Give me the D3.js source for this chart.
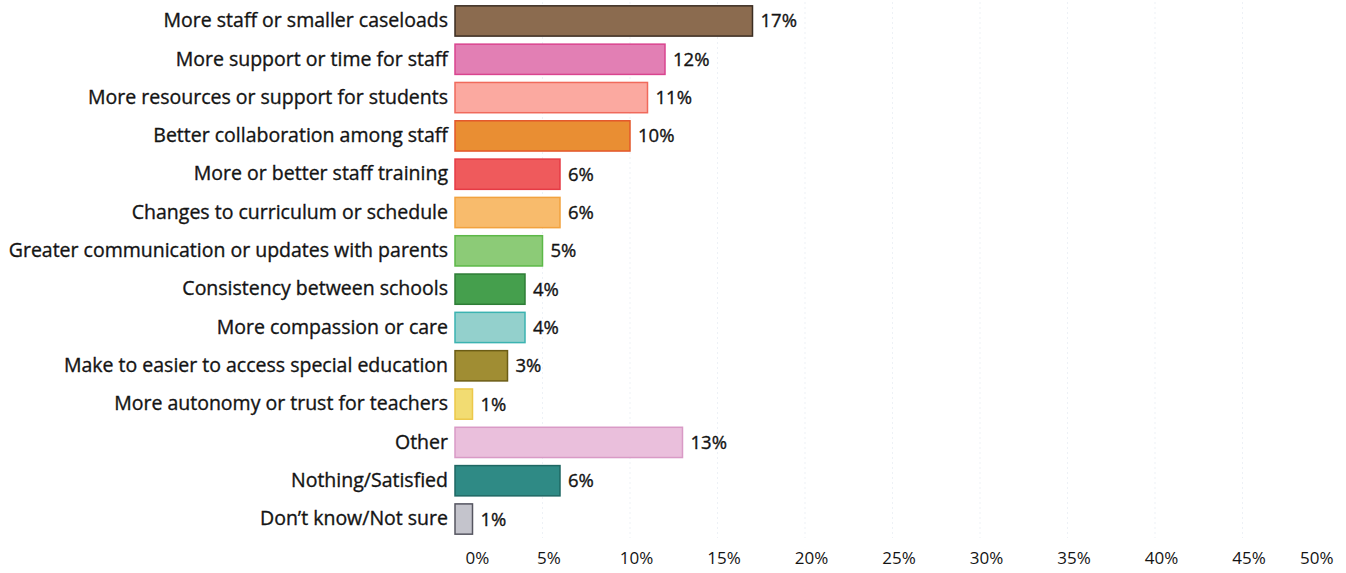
<!DOCTYPE html>
<html>
<head>
<meta charset="utf-8">
<script src="https://cdn.jsdelivr.net/npm/d3@7"></script>
<style>
  html, body { margin: 0; padding: 0; background: #ffffff; }
  svg { display: block; }
  text { font-family: "Open Sans", Lato, sans-serif; fill: #141414; }
  .heavy { stroke: #141414; stroke-width: 0.35px; }
</style>
</head>
<body>
<svg id="chart" width="1346" height="573"></svg>
<script>
// Responses: what would improve the experience
const categories = [
  "More staff or smaller caseloads",
  "More support or time for staff",
  "More resources or support for students",
  "Better collaboration among staff",
  "More or better staff training",
  "Changes to curriculum or schedule",
  "Greater communication or updates with parents",
  "Consistency between schools",
  "More compassion or care",
  "Make to easier to access special education",
  "More autonomy or trust for teachers",
  "Other",
  "Nothing/Satisfied",
  "Don\u2019t know/Not sure"
];
const values = [17, 12, 11, 10, 6, 6, 5, 4, 4, 3, 1, 13, 6, 1];
const tickValues = [0, 5, 10, 15, 20, 25, 30, 35, 40, 45, 50];
const fills = ["#8b6b4f", "#e27fb4", "#fba9a0", "#e98e33", "#ef5a5c", "#f8bb6c",
               "#8ccb77", "#459f4d", "#93d0cc", "#a08d33", "#f2dc72", "#eabfdc",
               "#2f8a85", "#c4c4cc"];
const strokes = ["#3b2d22", "#d9448f", "#f06a5c", "#e4572a", "#e63b45", "#f2a23e",
                 "#5cb848", "#2e7d36", "#3bb3b1", "#6b5c15", "#ecc84a", "#d99ac6",
                 "#1e6763", "#555560"];

const svg = d3.select("#chart");
const margin = { left: 455, top: 2, bottom: 538 };

const x = d3.scaleLinear().domain([0, 50]).range([margin.left, margin.left + 50 * 17.5]);
const y = d3.scaleBand().domain(categories)
  .range([margin.top, margin.bottom]).paddingInner(0.21).paddingOuter(0.1);

// faint vertical gridlines
svg.append("g").selectAll("line").data(tickValues.slice(1, -1)).join("line")
  .attr("x1", d => x(d)).attr("x2", d => x(d))
  .attr("y1", margin.top).attr("y2", margin.bottom)
  .attr("stroke", "#edf1f6").attr("stroke-width", 1).attr("stroke-dasharray", "2,3");

// bars
svg.append("g").selectAll("rect").data(values).join("rect")
  .attr("x", x(0))
  .attr("y", (d, i) => y(categories[i]))
  .attr("width", d => x(d) - x(0))
  .attr("height", y.bandwidth())
  .attr("fill", (d, i) => fills[i])
  .attr("stroke", (d, i) => strokes[i])
  .attr("stroke-width", 1.5);

// value labels
svg.append("g").selectAll("text").data(values).join("text")
  .attr("class", "heavy")
  .attr("x", d => x(d) + 8)
  .attr("y", (d, i) => y(categories[i]) + y.bandwidth() / 2)
  .attr("dy", "0.35em")
  .attr("font-size", 18.5)
  .text(d => d + "%");

// category axis
const yAxis = svg.append("g")
  .attr("transform", `translate(${x(0) - 7},0)`)
  .call(d3.axisLeft(y).tickSize(0).tickPadding(0));
yAxis.select(".domain").remove();
yAxis.selectAll("text").attr("class", "heavy").attr("font-size", 19.5).attr("fill", "#141414")
  .style("font-family", "'Open Sans', Lato, sans-serif");

// value axis
const xAxis = svg.append("g")
  .attr("transform", `translate(0,546)`)
  .call(d3.axisBottom(x).tickValues(tickValues).tickFormat(d => d + "%").tickSize(0).tickPadding(6));
xAxis.select(".domain").remove();
xAxis.selectAll("text").attr("font-size", 17).attr("fill", "#141414")
  .style("font-family", "'Open Sans', Lato, sans-serif")
  .attr("text-anchor", d => d === 0 ? "start" : d === 50 ? "end" : "middle")
  .attr("dx", d => d === 0 ? 10 : d === 50 ? 3 : 6);
</script>
</body>
</html>
